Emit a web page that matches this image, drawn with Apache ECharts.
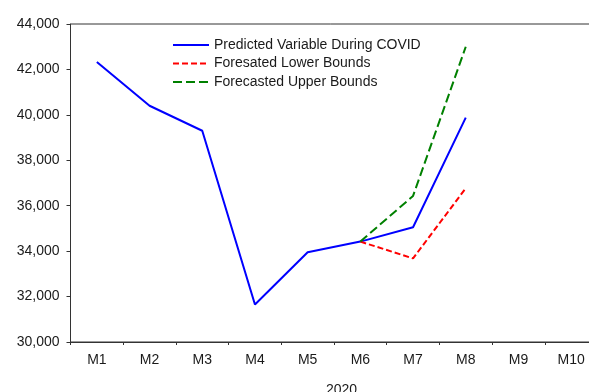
<!DOCTYPE html>
<html><head><meta charset="utf-8">
<script src="https://cdn.jsdelivr.net/npm/echarts@6/dist/echarts.min.js"></script>
<style>html,body{margin:0;padding:0;background:#fff;overflow:hidden}#c{width:589px;height:392px}</style>
</head><body><div id="c"></div>
<script>
var categories = ['M1','M2','M3','M4','M5','M6','M7','M8','M9','M10'];
var predicted = [42330, 40400, 39300, 31650, 33950, 34420, 35050, 39880, null, null];
var lowerBounds = [null, null, null, null, null, 34420, 33680, 36770, null, null];
var upperBounds = [null, null, null, null, null, 34420, 36430, 43000, null, null];
var yTicks = {min: 30000, max: 44000, interval: 2000};
var seriesNames = ['Predicted Variable During COVID','Foresated Lower Bounds','Forecasted Upper Bounds'];
var axisName = '2020';

var chart = echarts.init(document.getElementById('c'), null, {renderer:'canvas'});
var txt = '#1a1a1a';
var font = 'Arial, "Liberation Sans", sans-serif';
chart.setOption({
  animation: false,
  backgroundColor: '#fff',
  textStyle: {fontFamily: font},
  grid: {left: 70.5, top: 24, right: -8.5, height: 318, show: true, borderColor: '#333', borderWidth: 1,
         containLabel: false, outerBoundsMode: 'none'},
  legend: {
    orient: 'vertical', left: 167, top: 33, itemWidth: 36, itemHeight: 10, itemGap: 4.5,
    itemStyle: {opacity: 0},
    textStyle: {fontSize: 14, color: txt, fontFamily: font},
    data: seriesNames
  },
  xAxis: {
    type: 'category', data: categories, boundaryGap: true,
    name: axisName, nameLocation: 'middle', nameGap: 41,
    nameTextStyle: {fontSize: 14, color: txt, padding: [0,0,0,15]},
    axisLine: {lineStyle: {color: '#333', width: 1}},
    axisTick: {show: true, length: 3, lineStyle: {color: '#333'}},
    axisLabel: {fontSize: 14, color: txt, margin: 11},
    splitLine: {show: false}
  },
  yAxis: {
    type: 'value', min: yTicks.min, max: yTicks.max, interval: yTicks.interval,
    axisLine: {show: true, lineStyle: {color: '#333', width: 1}},
    axisTick: {show: true, length: 4, lineStyle: {color: '#333'}},
    axisLabel: {fontSize: 14, color: txt, margin: 11,
      formatter: function(v){return v.toLocaleString('en-US');}},
    splitLine: {show: false}
  },
  series: [
    {name: seriesNames[0], type: 'line', data: predicted, symbol: 'none', connectNulls: false,
     lineStyle: {color: '#0000ff', width: 2}, itemStyle: {color: '#0000ff'}},
    {name: seriesNames[1], type: 'line', data: lowerBounds, symbol: 'none',
     lineStyle: {color: '#ff0000', width: 2, type: [6,3]}, itemStyle: {color: '#ff0000'}},
    {name: seriesNames[2], type: 'line', data: upperBounds, symbol: 'none',
     lineStyle: {color: '#008000', width: 2, type: [9,4]}, itemStyle: {color: '#008000'}}
  ]
});
</script></body></html>
